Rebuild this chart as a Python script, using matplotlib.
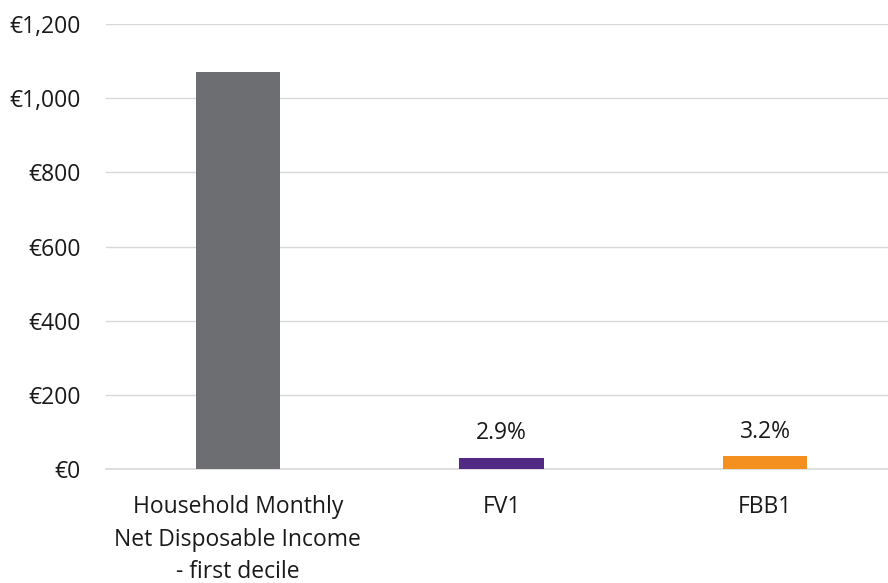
import matplotlib
matplotlib.use("Agg")
import matplotlib.pyplot as plt
from matplotlib.ticker import FuncFormatter

categories = ["Household Monthly\nNet Disposable Income\n- first decile", "FV1", "FBB1"]
values = [1070, 31, 34]
bar_labels = [None, "2.9%", "3.2%"]
colors = ["#6d6e71", "#522a84", "#f39020"]

plt.rcParams['font.family'] = ['Open Sans', 'DejaVu Sans']

W, H = 888, 583
fig = plt.figure(figsize=(W / 100, H / 100), dpi=100)
x0, x1 = 106, 897
y0, y1 = 469, 24
ax = fig.add_axes([x0 / W, 1 - y0 / H, (x1 - x0) / W, (y0 - y1) / H])

FS = 16.5
xs = list(range(len(categories)))
bars = ax.bar(xs, values, width=0.32, color=colors, zorder=3)
for b, lab in zip(bars, bar_labels):
    if lab:
        ax.annotate(lab, (b.get_x() + b.get_width() / 2, b.get_height()),
                    xytext=(0, 9), textcoords="offset points", ha="center", va="bottom",
                    fontsize=FS, color="#1a1a1a")

ax.set_xlim(-0.5, 2.5)
ax.set_ylim(0, 1200)
ax.set_yticks(range(0, 1201, 200))
ax.yaxis.set_major_formatter(FuncFormatter(lambda v, p: "€{:,.0f}".format(v)))
ax.grid(axis="y", color="#d9d9d9", linewidth=1, zorder=0)
ax.axhline(0, color="#d9d9d9", linewidth=1.2, zorder=1, clip_on=False)
for s in ax.spines.values():
    s.set_visible(False)
ax.tick_params(axis="both", length=0, labelsize=FS, labelcolor="#1a1a1a")
ax.tick_params(axis="y", pad=18)
ax.tick_params(axis="x", pad=19)
ax.set_xticks(xs)
ax.set_xticklabels(categories, linespacing=1.47)

fig.savefig("out.png", dpi=100)
